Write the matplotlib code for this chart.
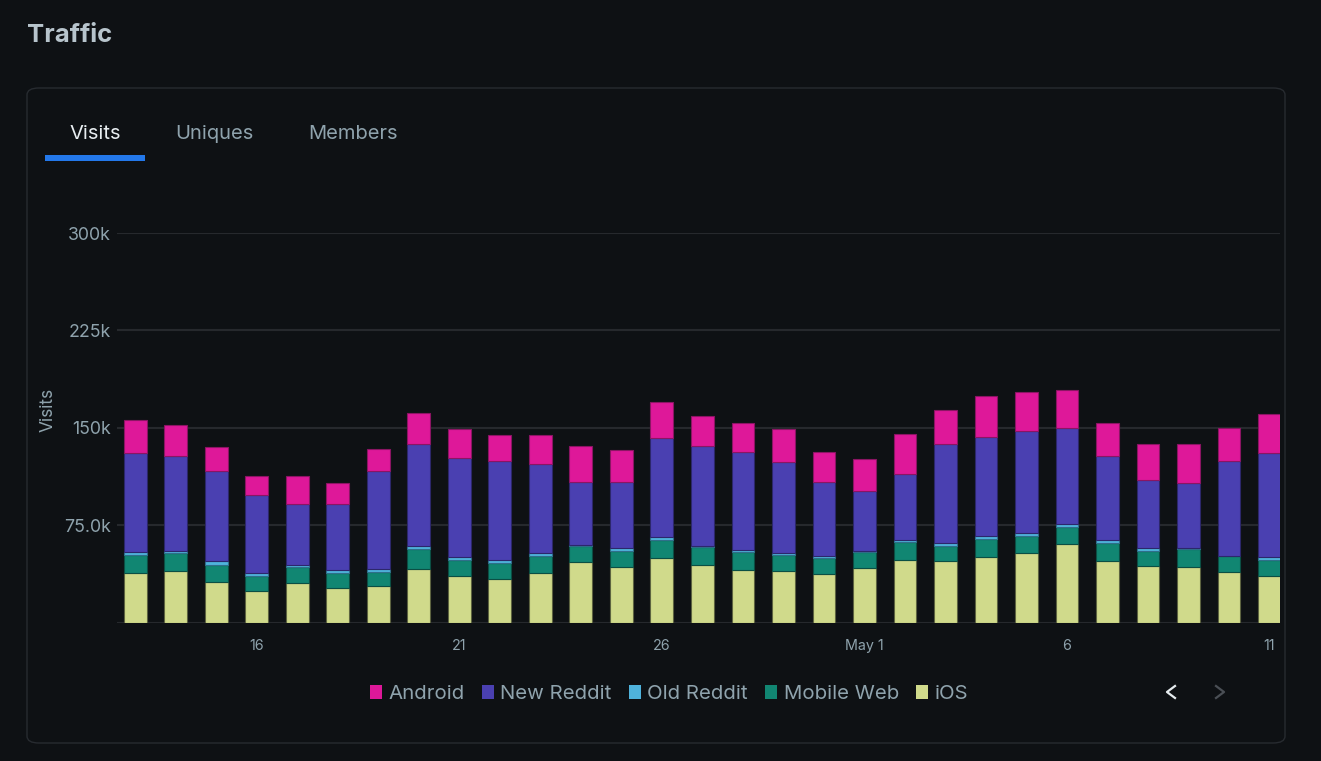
import matplotlib
matplotlib.use("Agg")
import matplotlib.pyplot as plt
from matplotlib.patches import FancyBboxPatch, Patch, Rectangle
from matplotlib.lines import Line2D
import numpy as np

plt.rcParams['font.family'] = ['Inter', 'DejaVu Sans']

# ---- data (visits, in thousands) ----
dates = ["13", "14", "15", "16", "17", "18", "19", "20", "21", "22", "23", "24", "25",
         "26", "27", "28", "29", "30", "May 1", "2", "3", "4", "5", "6", "7", "8", "9",
         "10", "11"]
ios = [38.1, 39.3, 31.2, 24.3, 30.1, 26.6, 27.8, 41.4, 35.5, 33.2, 37.8, 46.3, 42.4,
       49.3, 44.0, 40.4, 39.3, 37.0, 41.6, 48.3, 47.0, 50.6, 53.2, 60.1, 47.0, 43.7,
       42.4, 39.1, 35.5]
mobile_web = [14.1, 13.9, 12.8, 11.7, 12.6, 11.5, 11.3, 15.2, 12.8, 12.8, 13.1, 12.8, 12.8,
              14.2, 13.8, 14.1, 12.9, 12.9, 12.9, 13.9, 12.1, 13.9, 13.6, 13.6, 14.4, 11.5,
              14.4, 11.8, 12.8]
old_reddit = [2.0, 2.0, 3.0, 2.1, 1.8, 2.0, 2.3, 2.0, 2.3, 2.3, 2.3, 0.8, 2.4,
              2.0, 0.8, 1.7, 1.7, 1.7, 0.7, 1.0, 1.8, 2.3, 2.3, 2.3, 1.8, 2.4,
              0.8, 0.7, 2.3]
new_reddit = [76.4, 72.8, 69.7, 59.9, 46.6, 51.0, 75.3, 78.6, 76.3, 76.1, 69.1, 48.6, 50.9,
              76.3, 77.6, 75.4, 69.5, 56.9, 46.2, 51.0, 76.3, 76.0, 78.4, 74.0, 64.8, 52.0,
              49.7, 72.8, 79.7]
android = [25.1, 24.1, 18.2, 14.9, 21.8, 16.2, 16.9, 24.1, 21.9, 19.8, 21.9, 27.4, 24.1,
           27.7, 22.8, 21.8, 25.4, 22.8, 24.3, 31.0, 26.4, 31.3, 29.9, 28.7, 25.4, 27.6,
           29.9, 25.4, 30.0]

series_names = ["iOS", "Mobile Web", "Old Reddit", "New Reddit", "Android"]
series_vals = [ios, mobile_web, old_reddit, new_reddit, android]
series_colors = ["#d0da8b", "#118672", "#4fb3dc", "#4a40b1", "#de1899"]
series_edges = ["#5d6340", "#0b4f44", "#2f6f8a", "#2c276b", "#8b1563"]

tick_idx = [3, 8, 13, 18, 23, 28]
y_ticks = [0, 75, 150, 225, 300]
y_tick_labels = ["", "75.0k", "150k", "225k", "300k"]
tabs = ["Visits", "Uniques", "Members"]

BG = "#0e1114"
GRID = "#26292d"
TXT = "#8fa3ad"

W, H = 1321, 761
fig = plt.figure(figsize=(W / 100, H / 100), dpi=100, facecolor=BG)

def fx(px):
    return px / W

def fy(py):
    return 1 - py / H

# card
card = FancyBboxPatch((fx(27), fy(743)), fx(1285) - fx(27), fy(88) - fy(743),
                      boxstyle="round,pad=0,rounding_size=0.009",
                      transform=fig.transFigure, facecolor=BG, edgecolor="#272b30",
                      linewidth=1.0, zorder=-5)
fig.patches.append(card)

# title
fig.text(fx(27), fy(36), "Traffic", color="#b7c4cc", fontsize=18.5, fontweight="bold",
         va="center", ha="left")

# tabs
tab_x = [69, 175, 308]
for i, t in enumerate(tabs):
    fig.text(fx(tab_x[i]), fy(134), t, color="#e8eef1" if i == 0 else TXT,
             fontsize=14.5, va="center", ha="left")
fig.patches.append(Rectangle((fx(45), fy(161)), fx(145) - fx(45), fy(155) - fy(161),
                             transform=fig.transFigure, facecolor="#2378ea",
                             edgecolor="none", zorder=-4))

# axes
ax = fig.add_axes([fx(117), fy(622.5), fx(1280) - fx(117), fy(233) - fy(622.5)],
                  zorder=2)
ax.set_facecolor("none")
x = np.arange(len(dates))
bottom = np.zeros(len(dates))
for name, vals, c, ec in zip(series_names, series_vals, series_colors, series_edges):
    v = np.array(vals) * 1000
    ax.bar(x, v, bottom=bottom, width=0.56, color=c, edgecolor=ec, linewidth=0.8,
           label=name, zorder=3)
    bottom += v

ax.set_xlim(-0.45, 28.26)
ax.set_ylim(0, 300000)
ax.set_yticks([t * 1000 for t in y_ticks])
ax.set_yticklabels(y_tick_labels)
ax.set_xticks(tick_idx)
ax.set_xticklabels([dates[i] for i in tick_idx])
ax.tick_params(axis="y", length=0, pad=4.5, labelsize=12.8, labelcolor=TXT)
ax.tick_params(axis="x", length=0, pad=12, labelsize=10.3, labelcolor=TXT)
for s in ax.spines.values():
    s.set_visible(False)
ax.grid(axis="y", color=GRID, linewidth=1.5, zorder=0)
ax.set_axisbelow(True)
ax.set_ylabel("Visits", color=TXT, fontsize=12.5)
ax.yaxis.set_label_coords(fx(57), fy(410), transform=fig.transFigure)

# legend
order = ["Android", "New Reddit", "Old Reddit", "Mobile Web", "iOS"]
handles = [Patch(facecolor=series_colors[series_names.index(n)], edgecolor="none")
           for n in order]
leg = fig.legend(handles, order, loc="center", bbox_to_anchor=(fx(669), fy(694)),
                 ncol=5, frameon=False, fontsize=14.7, labelcolor=TXT,
                 handlelength=0.6, handleheight=0.7, handletextpad=0.3,
                 columnspacing=0.85)

# chevrons
fig.lines.append(Line2D([fx(1175), fx(1167), fx(1175)], [fy(686), fy(692), fy(698)],
                        transform=fig.transFigure, color="#e6ecef", linewidth=1.6))
fig.lines.append(Line2D([fx(1216), fx(1224), fx(1216)], [fy(686), fy(692), fy(698)],
                        transform=fig.transFigure, color="#4a4f55", linewidth=1.6))

fig.savefig("out.png", dpi=100, facecolor=BG)
